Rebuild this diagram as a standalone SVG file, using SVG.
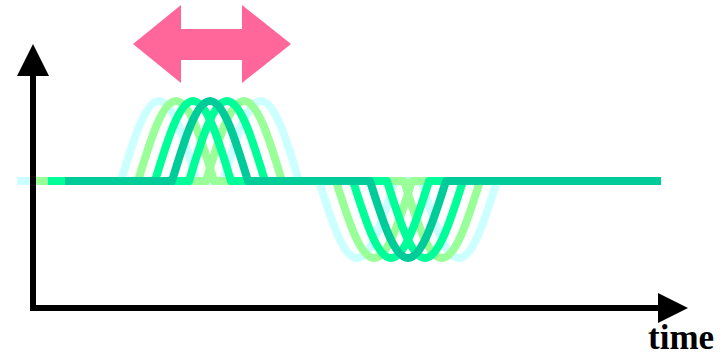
<svg xmlns="http://www.w3.org/2000/svg" xmlns:xlink="http://www.w3.org/1999/xlink" width="727" height="357" viewBox="0 0 727 357">
  <style>
    .wave { fill: none; stroke-width: 8; stroke-linejoin: round; }
    .c1 { stroke: #CCFFFF; }
    .c2 { stroke: #99FF99; }
    .c3 { stroke: #00FF99; }
    .c4 { stroke: #00CC99; }
    .axis { stroke: #000000; stroke-width: 6; fill: none; }
    .head { fill: #000000; }
    .label { font-family: "Liberation Serif", "Times New Roman", serif; font-weight: bold; font-size: 35px; fill: #000000; }
  </style>
  <defs>
    <clipPath id="clipWave">
      <rect x="17" y="0" width="644" height="357"/>
    </clipPath>
    <path id="pulse" d="M65,181 H172 C184.39,140.02 196.25,101 210,101 C223.75,101 235.61,140.02 248,181 H370 C382.39,220.45 394.25,258 408,258 C421.75,258 433.61,220.45 446,181 H661"/>
  </defs>
  <rect width="727" height="357" fill="#FFFFFF"/>
  <g id="arrow-shift">
    <polygon points="133,44 181,5 181,29 242,29 242,5 291,44 242,83 242,60 181,60 181,83" fill="#FF6699"/>
  </g>
  <g id="waves" clip-path="url(#clipWave)">
    <use xlink:href="#pulse" class="wave c1" transform="translate(-51,0)"/>
    <use xlink:href="#pulse" class="wave c1" transform="translate(51,0)"/>
    <use xlink:href="#pulse" class="wave c2" transform="translate(-34,0)"/>
    <use xlink:href="#pulse" class="wave c2" transform="translate(34,0)"/>
    <use xlink:href="#pulse" class="wave c3" transform="translate(-17,0)"/>
    <use xlink:href="#pulse" class="wave c3" transform="translate(17,0)"/>
    <use xlink:href="#pulse" class="wave c4"/>
  </g>
  <g id="axes">
    <line class="axis" x1="33" y1="70" x2="33" y2="311"/>
    <line class="axis" x1="30" y1="308" x2="662" y2="308"/>
    <polygon class="head" points="17,76 33,44 49,76"/>
    <polygon class="head" points="658,293 688,308 658,323"/>
  </g>
  <text class="label" x="648" y="349">time</text>
</svg>
